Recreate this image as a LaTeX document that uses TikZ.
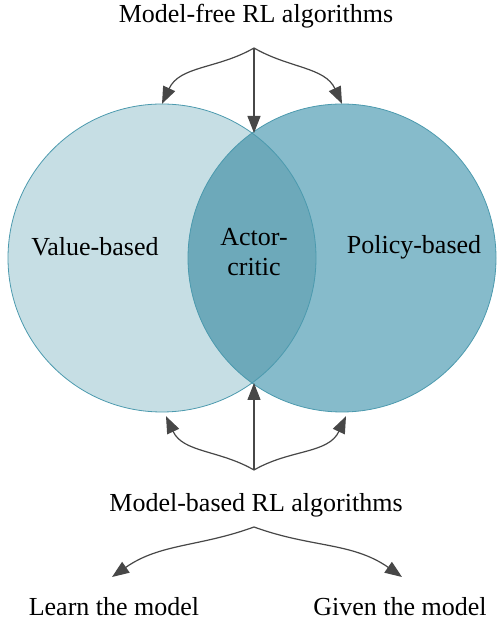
\documentclass[tikz,border=0pt]{standalone}
\usepackage{fontspec}
\setmainfont{Liberation Serif}
\usetikzlibrary{positioning, arrows.meta}

\definecolor{valuefill}{HTML}{C6DEE4}
\definecolor{policyfill}{HTML}{86BBCB}
\definecolor{acfill}{HTML}{6DA9BA}
\definecolor{ringline}{HTML}{4C9AAE}
\definecolor{arrowgray}{HTML}{474747}

\begin{document}
\begin{tikzpicture}[x=1pt, y=1pt,
    txt/.style={font=\fontsize{26}{30}\selectfont, inner sep=0pt},
    ring/.style={circle, minimum size=308pt, inner sep=0pt},
    arr/.style={-{Triangle[length=17pt,width=13pt]}, color=arrowgray, line width=1.2pt}]
    \useasboundingbox (0,0) rectangle (497,623);

    % the two families and their overlap
    \node[ring, fill=valuefill] (vb) at (162,365) {};
    \node[ring, fill=policyfill] (pb) at (342,365) {};
    \begin{scope}
      \clip (pb.center) circle (154);
      \fill[acfill] (vb.center) circle (154);
    \end{scope}
    \draw[ringline, line width=0.8pt] (vb.center) circle (154);
    \draw[ringline, line width=0.8pt] (pb.center) circle (154);

    \node[txt] (vbl) at (95,376) {Value-based};
    \node[txt] (pbl) at (414,376) {Policy-based};
    \node[txt, align=center] (ac) at (254,371) {Actor-\\critic};

    \node[txt] (mf) at (256,607) {Model-free RL algorithms};
    \node[txt] (mb) at (256,118) {Model-based RL algorithms};
    \node[txt] (lm) at (114,16) {Learn the model};
    \node[txt] (gm) at (400,16) {Given the model};

    \coordinate (mffork) at (254,575);
    \coordinate (acn) at (254,490);
    \coordinate (acs) at (254,240);
    \coordinate (mbfork) at (254,153);
    \coordinate (lowfork) at (254,96);
    \coordinate (lmtip) at (112,46);
    \coordinate (gmtip) at (402,46);

    \path[arr]
      (mffork) edge[out=210, in=65] (vb.north)
          (mffork) edge (acn)
      (mffork) edge[out=-30, in=115] (pb.north)
      (mbfork) edge[out=150, in=-65] ([xshift=4pt,yshift=-4pt]vb.south)
          (mbfork) edge (acs)
      (mbfork) edge[out=30, in=245] ([xshift=4pt,yshift=-4pt]pb.south)
      (lowfork) edge[out=200, in=35] (lmtip)
          (lowfork) edge[out=-20, in=145] (gmtip);
  \end{tikzpicture}
\end{document}
